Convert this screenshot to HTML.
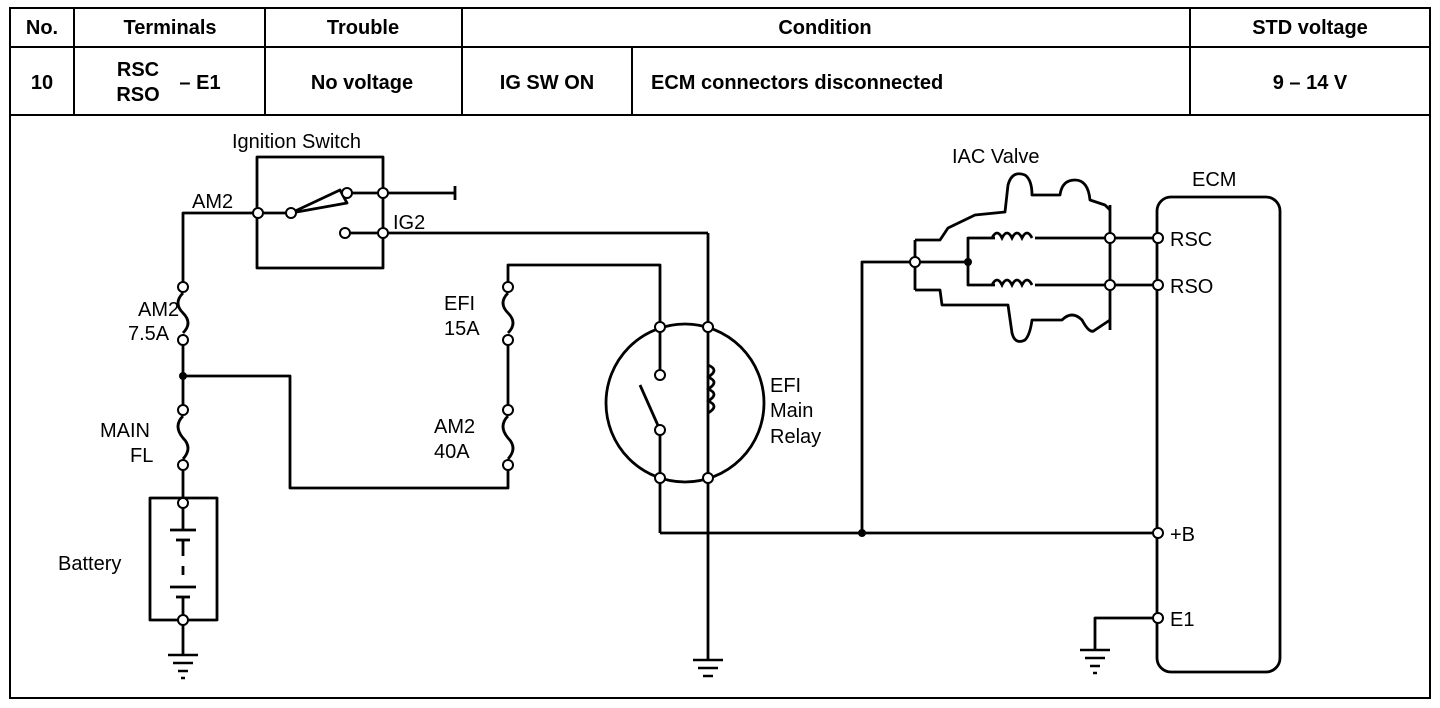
<!DOCTYPE html>
<html><head><style>
html,body{margin:0;padding:0;background:#fff;}
svg{display:block;}
text{font-family:"Liberation Sans",Arial,sans-serif;fill:#000;}
.h{font-weight:bold;font-size:20px;}
.l{font-size:20px;}
</style></head><body>
<svg width="1440" height="708" viewBox="0 0 1440 708">
<g stroke="#000" stroke-width="2" fill="none">
<rect x="10" y="8" width="1420" height="690"/>
<line x1="10" y1="47" x2="1430" y2="47"/>
<line x1="10" y1="115" x2="1430" y2="115"/>
<line x1="74" y1="8" x2="74" y2="115"/>
<line x1="265" y1="8" x2="265" y2="115"/>
<line x1="462" y1="8" x2="462" y2="115"/>
<line x1="1190" y1="8" x2="1190" y2="115"/>
<line x1="632" y1="47" x2="632" y2="115"/>
</g>
<g class="h" text-anchor="middle">
<text x="42" y="34">No.</text>
<text x="170" y="34">Terminals</text>
<text x="363" y="34">Trouble</text>
<text x="825" y="34">Condition</text>
<text x="1310" y="34">STD voltage</text>
<text x="42" y="89">10</text>
<text x="138" y="76">RSC</text>
<text x="138" y="101">RSO</text>
<text x="200" y="89">– E1</text>
<text x="362" y="89">No voltage</text>
<text x="547" y="89">IG SW ON</text>
<text x="1310" y="89">9 – 14 V</text>
</g>
<text class="h" x="651" y="89">ECM connectors disconnected</text>

<g stroke="#000" stroke-width="2.8" fill="none" stroke-linejoin="round">
<rect x="257" y="157" width="126" height="111"/>
<line x1="258" y1="213" x2="291" y2="213"/>
<polygon points="291,213 340,190 347,203"/>
<line x1="347" y1="193" x2="455" y2="193"/>
<line x1="455" y1="186" x2="455" y2="200"/>
<line x1="345" y1="233" x2="708" y2="233"/>
<line x1="708" y1="233" x2="708" y2="660"/>
<polyline points="258,213 183,213 183,287"/>
<path d="M183,293 q-10,10 0,20 q10,10 0,20"/>
<line x1="183" y1="340" x2="183" y2="410"/>
<path d="M183,416 q-10,10 0,22 q10,10 0,21"/>
<line x1="183" y1="465" x2="183" y2="503"/>
<polyline points="183,376 290,376 290,488 508,488 508,465"/>
<path d="M508,416 q-10,10 0,22 q10,10 0,21"/>
<line x1="508" y1="410" x2="508" y2="340"/>
<path d="M508,293 q-10,10 0,20 q10,10 0,20"/>
<polyline points="508,287 508,265 660,265 660,327"/>
<rect x="150" y="498" width="67" height="122"/>
<line x1="183" y1="503" x2="183" y2="530"/>
<line x1="170" y1="530" x2="196" y2="530"/>
<line x1="176" y1="540" x2="190" y2="540"/>
<line x1="183" y1="540" x2="183" y2="556"/>
<line x1="183" y1="566" x2="183" y2="575"/>
<line x1="170" y1="587" x2="196" y2="587"/>
<line x1="176" y1="597" x2="190" y2="597"/>
<line x1="183" y1="597" x2="183" y2="655"/>
<circle cx="685" cy="403" r="79"/>
<line x1="660" y1="327" x2="660" y2="375"/>
<line x1="660" y1="430" x2="660" y2="533"/>
<line x1="660" y1="430" x2="640" y2="385"/>
<path d="M708,365 q12,5 0,12 q12,5 0,12 q12,5 0,12 q12,5 0,12 "/>
<polyline points="660,533 1158,533"/>
<polyline points="862,533 862,262 968,262"/>
<polyline points="968,262 968,238 1158,238"/>
<polyline points="968,262 968,285 1158,285"/>
<line x1="1110" y1="205" x2="1110" y2="330"/>
<line x1="915" y1="240" x2="915" y2="290"/>
<path d="M915,240 L940,240 L948,228 L975,215 L1005,212 L1008,185 Q1012,170 1025,175 Q1032,180 1032,195 L1060,195 Q1062,180 1075,180 Q1088,180 1090,200 L1105,205 L1110,210"/>
<path d="M915,290 L940,290 L942,305 L1008,305 L1012,333 Q1015,345 1025,340 Q1030,335 1032,320 L1062,320 Q1072,310 1082,320 Q1090,335 1095,330 L1110,320"/>
<rect x="1157" y="197" width="123" height="475" rx="14"/>
<polyline points="1158,618 1095,618 1095,650"/>
</g>
<g fill="#fff" stroke="none"><rect x="995" y="228" width="40" height="20"/><rect x="995" y="275" width="40" height="20"/></g>
<g stroke="#000" stroke-width="2.8" fill="none">
<path d="M992,238 q5,-10 10,0 q5,-10 10,0 q5,-10 10,0 q5,-10 10,0"/>
<path d="M992,285 q5,-10 10,0 q5,-10 10,0 q5,-10 10,0 q5,-10 10,0"/>
</g>
<g stroke="#000" stroke-width="2.5">
<line x1="168" y1="655" x2="198" y2="655"/><line x1="173" y1="663" x2="193" y2="663"/><line x1="178" y1="671" x2="188" y2="671"/><line x1="181" y1="678" x2="185" y2="678"/>
<line x1="693" y1="660" x2="723" y2="660"/><line x1="698" y1="668" x2="718" y2="668"/><line x1="703" y1="676" x2="713" y2="676"/>
<line x1="1080" y1="650" x2="1110" y2="650"/><line x1="1085" y1="658" x2="1105" y2="658"/><line x1="1090" y1="666" x2="1100" y2="666"/><line x1="1093" y1="673" x2="1097" y2="673"/>
</g>
<g fill="#000"><circle cx="183" cy="376" r="4"/><circle cx="862" cy="533" r="4"/><circle cx="968" cy="262" r="4"/></g>
<g fill="#fff" stroke="#000" stroke-width="2">
<circle cx="258" cy="213" r="5"/><circle cx="291" cy="213" r="5"/><circle cx="347" cy="193" r="5"/><circle cx="383" cy="193" r="5"/>
<circle cx="345" cy="233" r="5"/><circle cx="383" cy="233" r="5"/>
<circle cx="183" cy="287" r="5"/><circle cx="183" cy="340" r="5"/><circle cx="183" cy="410" r="5"/><circle cx="183" cy="465" r="5"/>
<circle cx="183" cy="503" r="5"/><circle cx="183" cy="620" r="5"/>
<circle cx="508" cy="287" r="5"/><circle cx="508" cy="340" r="5"/><circle cx="508" cy="410" r="5"/><circle cx="508" cy="465" r="5"/>
<circle cx="660" cy="327" r="5"/><circle cx="708" cy="327" r="5"/><circle cx="660" cy="478" r="5"/><circle cx="708" cy="478" r="5"/>
<circle cx="660" cy="375" r="5"/><circle cx="660" cy="430" r="5"/>
<circle cx="915" cy="262" r="5"/><circle cx="1110" cy="238" r="5"/><circle cx="1110" cy="285" r="5"/>
<circle cx="1158" cy="238" r="5"/><circle cx="1158" cy="285" r="5"/><circle cx="1158" cy="533" r="5"/><circle cx="1158" cy="618" r="5"/>
</g>
<g class="l">
<text x="232" y="148">Ignition Switch</text>
<text x="192" y="208">AM2</text>
<text x="393" y="229">IG2</text>
<text x="138" y="316">AM2</text><text x="128" y="340">7.5A</text>
<text x="100" y="437">MAIN</text><text x="130" y="462">FL</text>
<text x="58" y="570">Battery</text>
<text x="444" y="310">EFI</text><text x="444" y="335">15A</text>
<text x="434" y="433">AM2</text><text x="434" y="458">40A</text>
<text x="770" y="392">EFI</text><text x="770" y="417">Main</text><text x="770" y="443">Relay</text>
<text x="952" y="163">IAC Valve</text>
<text x="1192" y="186">ECM</text>
<text x="1170" y="246">RSC</text><text x="1170" y="293">RSO</text>
<text x="1170" y="541">+B</text><text x="1170" y="626">E1</text>
</g>
</svg>
</body></html>
